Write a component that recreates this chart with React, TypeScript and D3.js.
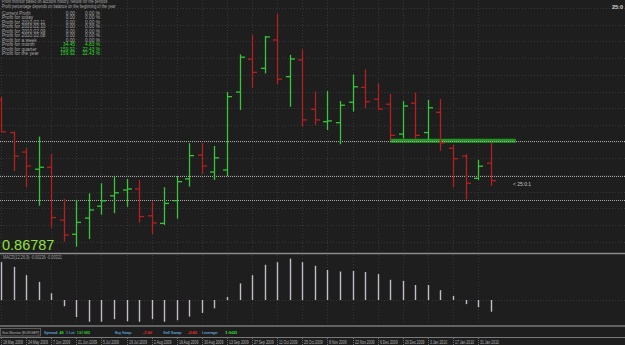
import React, { useRef, useEffect } from 'react';
import * as d3 from 'd3';

const W = 625;
const H = 345;

// weekly EURGBP bars
const opens = [0.9005, 0.8876, 0.8799, 0.8731, 0.8739, 0.8530, 0.8474, 0.8538, 0.8585, 0.8626,
  0.8649, 0.8653, 0.8547, 0.8517, 0.8607, 0.8693, 0.8787, 0.8720, 0.8728, 0.9036,
  0.9166, 0.9130, 0.9242, 0.9097, 0.9163, 0.8968, 0.8919, 0.8915, 0.8996, 0.9055,
  0.9008, 0.8988, 0.8870, 0.8992, 0.8876, 0.8956, 0.8814, 0.8783, 0.8695, 0.8755];
const highs = [0.9017, 0.8880, 0.8815, 0.8860, 0.8791, 0.8613, 0.8610, 0.8636, 0.8676, 0.8702,
  0.8693, 0.8689, 0.8603, 0.8660, 0.8704, 0.8834, 0.8835, 0.8823, 0.9036, 0.9185,
  0.9262, 0.9258, 0.9345, 0.9183, 0.9205, 0.9038, 0.9040, 0.9001, 0.9106, 0.9126,
  0.9071, 0.9029, 0.9001, 0.9034, 0.9005, 0.9009, 0.8827, 0.8791, 0.8768, 0.8836];
const lows = [0.8878, 0.8724, 0.8660, 0.8587, 0.8500, 0.8445, 0.8425, 0.8455, 0.8551, 0.8557,
  0.8583, 0.8520, 0.8475, 0.8511, 0.8536, 0.8662, 0.8712, 0.8689, 0.8704, 0.8965,
  0.9053, 0.9110, 0.9068, 0.8978, 0.8899, 0.8906, 0.8886, 0.8830, 0.8959, 0.8972,
  0.8965, 0.8844, 0.8853, 0.8849, 0.8847, 0.8804, 0.8660, 0.8612, 0.8689, 0.8665];
const closes = [0.8879, 0.8783, 0.8744, 0.8739, 0.8540, 0.8471, 0.8521, 0.8570, 0.8606, 0.8638,
  0.8653, 0.8544, 0.8519, 0.8596, 0.8682, 0.8785, 0.8744, 0.8776, 0.9018, 0.9174,
  0.9114, 0.9254, 0.9087, 0.9167, 0.8926, 0.8926, 0.8922, 0.8984, 0.9057, 0.8998,
  0.8969, 0.8865, 0.8981, 0.8865, 0.8974, 0.8835, 0.8773, 0.8676, 0.8743, 0.8686];

// MACD(12,26,9) histogram
const macd = [0.0073, 0.0064, 0.0048, 0.0035, 0.0013, -0.0012, -0.0033, -0.0042, -0.0042, -0.0037,
  -0.0041, -0.0042, -0.0037, -0.0042, -0.0039, -0.0032, -0.0025, -0.0016, 0.0006, 0.0032,
  0.0048, 0.0068, 0.0073, 0.0080, 0.0073, 0.0066, 0.0058, 0.0055, 0.0056, 0.0054,
  0.0050, 0.0039, 0.0037, 0.0029, 0.0029, 0.0019, 0.0008, -0.0008, -0.0014, -0.00226];

const levels = [0.8843, 0.8703, 0.8611];
const trendLine = { from: 31, to: 41, price: 0.8844 };

const dateLabels = ['18 May 2009', '24 May 2009', '7 Jun 2009', '21 Jun 2009', '5 Jul 2009', '19 Jul 2009',
  '2 Aug 2009', '16 Aug 2009', '30 Aug 2009', '13 Sep 2009', '27 Sep 2009', '11 Oct 2009', '25 Oct 2009',
  '8 Nov 2009', '22 Nov 2009', '6 Dec 2009', '20 Dec 2009', '3 Jan 2010', '17 Jan 2010', '31 Jan 2010'];

const profitLabels = ['Current Profit', 'Profit for today', 'Profit for 2010.02.11', 'Profit for 2010.02.10',
  'Profit for 2010.02.09', 'Profit for 2010.02.08', 'Profit for a week', 'Profit for month',
  'Profit for quarter', 'Profit for the year'];
const profitValues = ['0.00', '0.00', '0.00', '0.00', '0.00', '0.00', '0.00', '34.45', '159.92', '159.92'];
const profitPercents = ['0.00 %', '0.00 %', '0.00 %', '0.00 %', '0.00 %', '0.00 %', '0.00 %', '4.83 %', '22.43 %', '22.43 %'];

const statusParts = [
  { text: 'Spread:', color: '#5a9cc8' }, { text: '48', color: '#33dd33' },
  { text: '1 Lot:', color: '#5a9cc8' }, { text: '1.57 USD', color: '#33dd33' },
  { text: 'Buy Swap:', color: '#5a9cc8' }, { text: '-2.50', color: '#e23030' },
  { text: 'Sell Swap:', color: '#5a9cc8' }, { text: '-0.60', color: '#e23030' },
  { text: 'Leverage:', color: '#5a9cc8' }, { text: '1:500', color: '#33dd33' },
];
const statusX = [44, 59.5, 66, 77, 115, 143, 163, 188, 202, 225];
const statusW = [14, 4, 9, 13, 17, 9, 19, 9, 16, 12];

const BG = '#1e1e1e';
const GRID = '#363636';
const UP = '#36c636';
const DOWN = '#b42020';
const FONT = 'Liberation Sans, Arial, sans-serif';

// MT4 uses a narrow little font, so squeeze ours a bit
const squeeze = (sel, factor) => {
  const len = sel.node().getComputedTextLength();
  sel.attr('textLength', len * factor).attr('lengthAdjust', 'spacingAndGlyphs');
  return sel;
};

const App = () => {
  const svgRef = useRef(null);

  useEffect(() => {
    const svg = d3.select(svgRef.current);
    svg.selectAll('*').remove();

    const x = d3.scaleLinear().domain([0, 39]).range([1, 490.7]);
    const y = d3.scaleLinear().domain([0.84, 0.94]).range([253, 0]);
    const ym = d3.scaleLinear().domain([-0.005, 0.01]).range([325.9, 248.2]);

    svg.append('rect').attr('width', W).attr('height', H).attr('fill', BG);

    // grid
    const grid = svg.append('g').attr('stroke', GRID).attr('stroke-dasharray', '1,2').attr('stroke-width', 1);
    d3.range(0.9368, 0.84, -0.0066).forEach(p => {
      grid.append('line').attr('x1', 0).attr('x2', W).attr('y1', Math.round(y(p)) + 0.5).attr('y2', Math.round(y(p)) + 0.5);
    });
    dateLabels.forEach((d, i) => {
      const gx = Math.round(x(i * 2)) + 0.5;
      grid.append('line').attr('x1', gx).attr('x2', gx).attr('y1', 0).attr('y2', 252);
      grid.append('line').attr('x1', gx).attr('x2', gx).attr('y1', 255).attr('y2', 324);
    });
    grid.append('line').attr('x1', 0).attr('x2', W).attr('y1', Math.round(ym(0)) + 0.5).attr('y2', Math.round(ym(0)) + 0.5);

    // trend line (green) under level lines
    svg.append('line')
      .attr('x1', x(trendLine.from)).attr('x2', x(trendLine.to))
      .attr('y1', y(trendLine.price)).attr('y2', y(trendLine.price))
      .attr('stroke', '#1f961f').attr('stroke-width', 4);

    levels.forEach(p => {
      const ly = Math.round(y(p)) + 0.5;
      svg.append('line').attr('x1', 0).attr('x2', W).attr('y1', ly).attr('y2', ly)
        .attr('stroke', '#a8a8a8').attr('stroke-width', 1).attr('stroke-dasharray', '1,1');
    });

    // OHLC bars
    const bars = svg.append('g');
    opens.forEach((o, i) => {
      const c = closes[i];
      const col = c >= o ? UP : DOWN;
      const bx = Math.round(x(i)) + 0.5;
      const g = bars.append('g').attr('stroke', col).attr('stroke-width', 1.3);
      g.append('line').attr('x1', bx).attr('x2', bx).attr('y1', y(highs[i])).attr('y2', y(lows[i]));
      g.append('line').attr('x1', bx - 4.5).attr('x2', bx).attr('y1', y(o)).attr('y2', y(o));
      g.append('line').attr('x1', bx).attr('x2', bx + 4.5).attr('y1', y(c)).attr('y2', y(c));
    });

    // bar countdown
    squeeze(svg.append('text').attr('x', 513).attr('y', y(closes[39]) + 5)
      .attr('font-family', FONT).attr('font-size', 5.5).attr('fill', '#c8c8c8').text('< 25:0:1'), 0.9);
    svg.append('text').attr('x', 623).attr('y', 9).attr('text-anchor', 'end')
      .attr('font-family', FONT).attr('font-size', 5.5).attr('font-weight', 'bold').attr('fill', '#d8d8d8').text('25:0');

    // profit panel
    const info = svg.append('g').attr('font-family', FONT).attr('font-size', 4.8);
    squeeze(info.append('text').attr('x', 2).attr('y', 2.5).attr('fill', '#a8a8a8')
      .text('Profit monitor based on account history, results for the periods'), 0.8);
    squeeze(info.append('text').attr('x', 2).attr('y', 7.5).attr('fill', '#a8a8a8')
      .text('Profit percentage depends on balance on the beginning of the year'), 0.8);
    profitLabels.forEach((l, i) => {
      const ty = 15 + i * 4.45;
      const hot = parseFloat(profitValues[i]) > 0;
      const col = hot ? '#33dd33' : '#a8a8a8';
      info.append('text').attr('x', 2).attr('y', ty).attr('fill', '#a8a8a8').text(l);
      info.append('text').attr('x', 75).attr('y', ty).attr('text-anchor', 'end').attr('fill', col).text(profitValues[i]);
      info.append('text').attr('x', 100).attr('y', ty).attr('text-anchor', 'end').attr('fill', col).text(profitPercents[i]);
    });

    // current price
    svg.append('text').attr('x', 2).attr('y', 250).attr('font-family', FONT).attr('font-size', 14.5)
      .attr('fill', '#8fe33a').text('0.86787');

    // panel separators
    svg.append('line').attr('x1', 0).attr('x2', W).attr('y1', 253.5).attr('y2', 253.5).attr('stroke', '#8a8a8a').attr('stroke-width', 1.5);
    svg.append('line').attr('x1', 0).attr('x2', W).attr('y1', 326).attr('y2', 326).attr('stroke', '#7a7a7a').attr('stroke-width', 1.5);
    svg.append('line').attr('x1', 0).attr('x2', W).attr('y1', 337.5).attr('y2', 337.5).attr('stroke', '#7a7a7a').attr('stroke-width', 1);

    // MACD histogram
    squeeze(svg.append('text').attr('x', 3).attr('y', 259).attr('font-family', FONT).attr('font-size', 4.5)
      .attr('fill', '#a0a0a0').text('MACD(12,26,9) -0.00226 -0.00321'), 0.85);
    const mg = svg.append('g').attr('stroke', '#c4bcc6').attr('stroke-width', 1.4);
    macd.forEach((v, i) => {
      const mx = Math.round(x(i)) + 0.5;
      mg.append('line').attr('x1', mx).attr('x2', mx).attr('y1', ym(0)).attr('y2', ym(v));
    });

    // status bar
    svg.append('rect').attr('x', 0.5).attr('y', 328.5).attr('width', 40).attr('height', 7.5)
      .attr('fill', 'none').attr('stroke', '#6a6a6a').attr('stroke-width', 0.8);
    svg.append('text').attr('x', 2).attr('y', 334).attr('font-family', FONT).attr('font-size', 3.5)
      .attr('textLength', 37).attr('lengthAdjust', 'spacingAndGlyphs')
      .attr('fill', '#b0b0b0').text('Stat Monitor [EURGBP]');
    statusParts.forEach((p, i) => {
      svg.append('text').attr('x', statusX[i]).attr('y', 334.3).attr('font-family', FONT)
        .attr('font-size', 4.2).attr('fill', p.color).attr('stroke', p.color).attr('stroke-width', 0.15)
        .attr('textLength', statusW[i]).attr('lengthAdjust', 'spacingAndGlyphs').text(p.text);
    });

    // date axis
    const ax = svg.append('g').attr('font-family', FONT).attr('font-size', 4.6).attr('fill', '#b0b0b0');
    dateLabels.forEach((d, i) => {
      const tx = Math.round(x(i * 2)) + 0.5;
      svg.append('line').attr('x1', tx).attr('x2', tx).attr('y1', 338).attr('y2', 345)
        .attr('stroke', '#6a6a6a').attr('stroke-dasharray', '1,1');
      squeeze(ax.append('text').attr('x', tx + 1.5).attr('y', 343.5).text(d), 0.75);
    });
  }, []);

  return (
    <svg ref={svgRef} width={W} height={H} style={{ position: 'fixed', left: 0, top: 0, display: 'block' }}></svg>
  );
};

export default App;
